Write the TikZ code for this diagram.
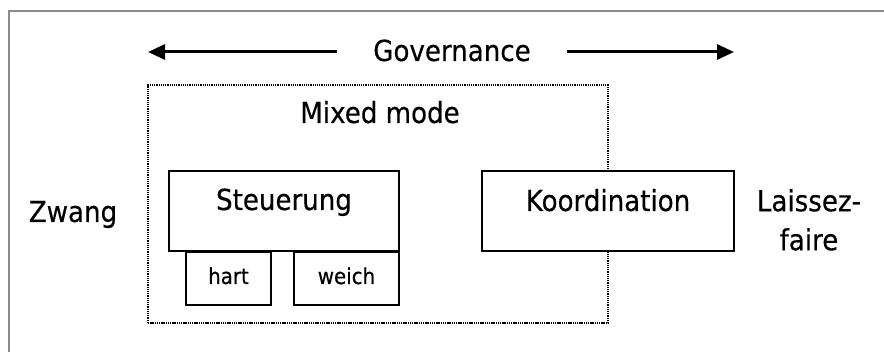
\documentclass[tikz,border=0pt]{standalone}
\usepackage{fontspec}
\setmainfont{DejaVu Sans}[FakeStretch=0.9, FakeBold=0.4]
\usetikzlibrary{arrows.meta}

\begin{document}
\begin{tikzpicture}[x=1pt, y=-1pt,
  box/.style={draw, line width=2.5pt, fill=white, inner sep=0pt, outer sep=0pt, anchor=north west},
  dotbox/.style={draw, line width=1.9pt, dash pattern=on 1.3pt off 0.9pt, inner sep=0pt, outer sep=0pt, anchor=north west},
  big/.style={font=\fontsize{29}{39}\selectfont, inner sep=0pt, anchor=base},
  small/.style={font=\fontsize{22}{26}\selectfont, inner sep=0pt, anchor=base},
  govarrow/.style={line width=3pt, -{Triangle[length=17pt,width=15pt]}},
  frameline/.style={draw=black!45, line width=2pt}]
\useasboundingbox (0,0) rectangle (884,352);

% outer frame (only top and left edges visible)
\draw[frameline] (9,352) -- (9,11) -- (884,11);

% governance axis
\node[big] (gov) at (452,61) {Governance};
\coordinate (govL) at (148,52);
\coordinate (govR) at (734,52);
\coordinate (govLs) at (337,52);
\coordinate (govRs) at (567,52);
\draw[govarrow] (govLs) -- (govL);
\draw[govarrow] (govRs) -- (govR);

% mixed mode region
\node[dotbox, minimum width=460pt, minimum height=238pt] (mixed) at (148,85) {};
\node[big] (mixedlbl) at (380,123) {Mixed mode};

% Steuerung with its two variants
\node[box, minimum width=230pt, minimum height=80pt] (steu) at (169,171) {};
\node[big] (steulbl) at (284,210) {Steuerung};
\node[box, minimum width=85pt, minimum height=53pt] (hart) at (186,252) {};
\node[small] (hartlbl) at (228.5,284) {hart};
\node[box, minimum width=105pt, minimum height=53pt] (weich) at (294,252) {};
\node[small] (weichlbl) at (346.5,284) {weich};

% Koordination, overlapping the dotted border
\node[box, minimum width=252pt, minimum height=80pt] (koord) at (482,171) {};
\node[big] (koordlbl) at (608,211) {Koordination};

% poles
\node[big] (zwang) at (73,222) {Zwang};
\node[big, anchor=north, align=center] (laissez) at (809,189) {Laissez-\\faire};
\end{tikzpicture}
\end{document}
